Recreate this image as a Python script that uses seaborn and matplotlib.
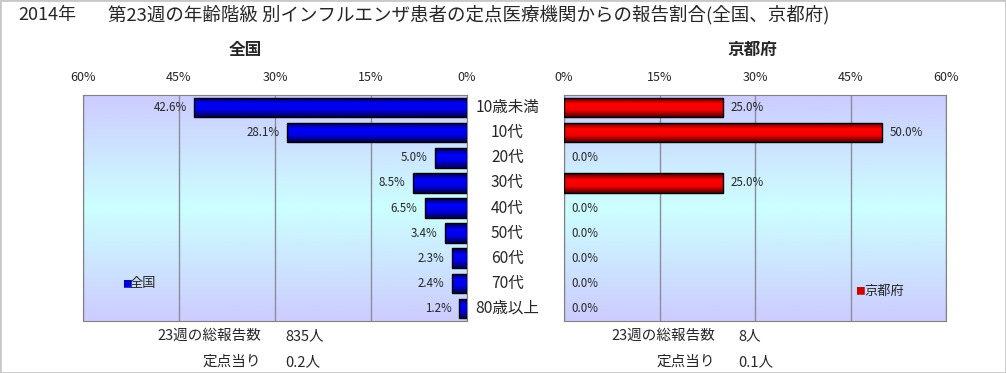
import matplotlib
matplotlib.use("Agg")
import matplotlib.pyplot as plt
import numpy as np
import pandas as pd
import seaborn as sns
from matplotlib.colors import LinearSegmentedColormap
from matplotlib.patches import Rectangle

ages = ['10歳未満', '10代', '20代', '30代', '40代', '50代', '60代', '70代', '80歳以上']
zenkoku = [42.6, 28.1, 5.0, 8.5, 6.5, 3.4, 2.3, 2.4, 1.2]
kyoto = [25.0, 50.0, 0.0, 25.0, 0.0, 0.0, 0.0, 0.0, 0.0]
ticks = [0, 15, 30, 45, 60]

title_year = '2014年'
title = '第23週の年齢階級 別インフルエンザ患者の定点医療機関からの報告割合(全国、京都府)'
total_z, per_z = '835人', '0.2人'
total_k, per_k = '8人', '0.1人'

sns.set_style('white')
plt.rcParams['font.family'] = ['Noto Sans CJK JP', 'DejaVu Sans']

df = pd.DataFrame({'age': ages, '全国': zenkoku, '京都府': kyoto})

fig = plt.figure(figsize=(10.06, 3.73), dpi=100)
fig.patches.append(Rectangle((0, 0), 1, 1, transform=fig.transFigure, fill=False,
                             edgecolor='#c8c8c8', lw=2))

bg = LinearSegmentedColormap.from_list('bg', ['#ccccff', '#ccffff', '#ccccff'])
blue = LinearSegmentedColormap.from_list('b', ['#000040', '#0000ff', '#0000e0', '#000050'])
red = LinearSegmentedColormap.from_list('r', ['#400000', '#ff0000', '#f00000', '#500000'])

ax_l = fig.add_axes([83 / 1006, 1 - 321 / 373, 384 / 1006, 226 / 373])
ax_r = fig.add_axes([564 / 1006, 1 - 321 / 373, 382 / 1006, 226 / 373])


def style(ax, col, cmap, inverted):
    sns.barplot(data=df, x=col, y='age', orient='h', ax=ax, color='blue',
                edgecolor='black', linewidth=1, width=0.78)
    grad = np.linspace(0, 1, 100).reshape(-1, 1)
    ax.imshow(grad, extent=[0, 1, 0, 1], transform=ax.transAxes, cmap=bg,
              aspect='auto', zorder=0)
    for p in ax.patches:
        w = p.get_width()
        if w <= 0:
            p.set_visible(False)
            continue
        y0, h = p.get_y(), p.get_height()
        p.set_facecolor('none')
        p.set_zorder(3)
        im = ax.imshow(grad, extent=[0, w, y0 + h, y0], cmap=cmap, aspect='auto', zorder=2)
        im.set_clip_path(p)
    ax.set_ylim(len(ages) - 0.5, -0.5)
    ax.set_xlim((60, 0) if inverted else (0, 60))
    ax.set_xticks(ticks)
    ax.set_xticklabels([f'{t}%' for t in ticks], fontsize=9)
    ax.xaxis.tick_top()
    ax.tick_params(axis='x', length=0, pad=8)
    ax.set_yticks([])
    ax.set_xlabel('')
    ax.set_ylabel('')
    ax.grid(axis='x', color='#8c8c9c', lw=1)
    for s in ax.spines.values():
        s.set_color('#808080')
        s.set_visible(True)
    for line in ax.get_xgridlines():
        line.set_zorder(1)


style(ax_l, '全国', blue, True)
style(ax_r, '京都府', red, False)

for i, v in enumerate(zenkoku):
    ax_l.text(v + 1.2, i, f'{v:.1f}%', ha='right', va='center', fontsize=8.3, zorder=5)
for i, v in enumerate(kyoto):
    ax_r.text(v + 1.2, i, f'{v:.1f}%', ha='left', va='center', fontsize=8.3, zorder=5)

for i, a in enumerate(ages):
    ax_l.text(1.105, i, a, transform=ax_l.get_yaxis_transform(), ha='center',
              va='center', fontsize=11.2)

fig.text(18 / 1006, 1 - 15 / 373, title_year, fontsize=13, va='center', ha='left')
fig.text(108 / 1006, 1 - 15 / 373, title, fontsize=13.3, va='center', ha='left')
fig.text(245 / 1006, 1 - 50 / 373, '全国', fontsize=12, weight='bold', ha='center', va='center')
fig.text(752 / 1006, 1 - 50 / 373, '京都府', fontsize=12, weight='bold', ha='center', va='center')

fig.text(122 / 1006, 1 - 284 / 373, '■', color='#0000cc', fontsize=7, va='center')
fig.text(130 / 1006, 1 - 284 / 373, '全国', fontsize=9.5, va='center')
fig.text(855 / 1006, 1 - 291 / 373, '■', color='#cc0000', fontsize=7, va='center')
fig.text(864 / 1006, 1 - 291 / 373, '京都府', fontsize=9.5, va='center')

for x_lab, x_val, tot, per in [(261, 285, total_z, per_z), (715, 738, total_k, per_k)]:
    fig.text(x_lab / 1006, 1 - 336 / 373, '23週の総報告数', fontsize=10.5, ha='right', va='center')
    fig.text(x_val / 1006, 1 - 336 / 373, tot, fontsize=10.5, ha='left', va='center')
    fig.text(x_lab / 1006, 1 - 362 / 373, '定点当り', fontsize=10.5, ha='right', va='center')
    fig.text(x_val / 1006, 1 - 362 / 373, per, fontsize=10.5, ha='left', va='center')

fig.savefig('out.png', dpi=100)
